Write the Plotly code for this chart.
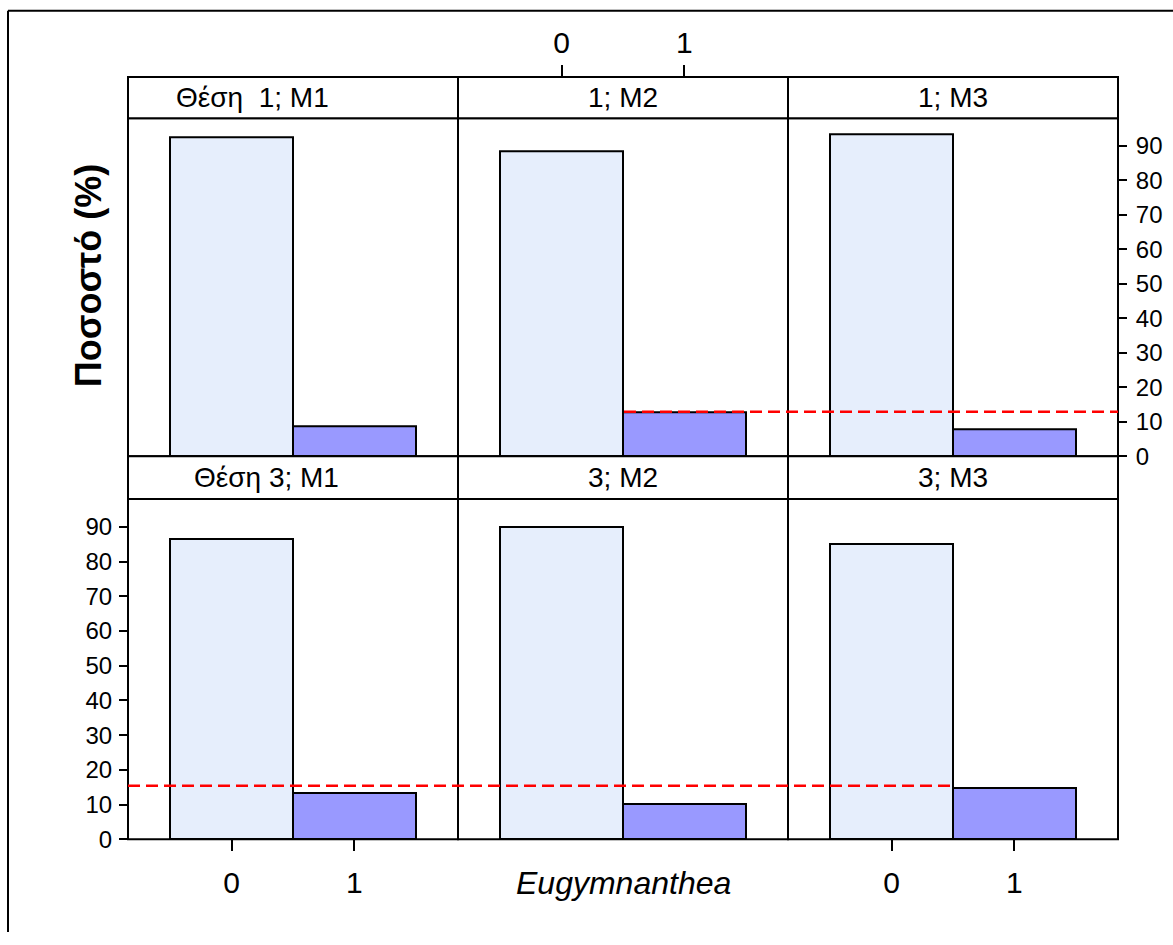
import plotly.graph_objects as go

# ---- data -------------------------------------------------------------
categories = ["0", "1"]
strip_texts = [["Θέση  1; M1", "1; M2", "1; M3"],
               ["Θέση 3; M1", "3; M2", "3; M3"]]
# percentage of category 0 / category 1 in each panel (row, column)
pct_0 = [[92.4, 88.4, 93.3],
         [86.5, 89.9, 85.1]]
pct_1 = [[8.5, 12.8, 7.7],
         [13.3, 10.2, 14.7]]
ref_level = [12.9, 15.4]          # dashed reference per row
y_ticks = [0, 10, 20, 30, 40, 50, 60, 70, 80, 90]

# ---- layout helpers (pixel -> paper) ----------------------------------
W, H = 1173, 945
def px(x):
    return x / W
def py(y):
    return 1 - y / H

col_px = [(128, 458), (458, 788), (788, 1118)]
row_px = [(120, 462.5), (506, 851)]      # plot area (top, bottom)
strip_px = [(78, 120), (462.5, 506)]

fill_0 = "#E6EEFC"
fill_1 = "#9999FF"
font_main = "Liberation Sans, Arial"

fig = go.Figure()
layout = dict(
    width=W, height=H, autosize=False,
    margin=dict(l=0, r=0, t=0, b=0),
    paper_bgcolor="white", plot_bgcolor="white",
    showlegend=False, bargap=0,
)
shapes = []
annotations = []

xrange_ = [-0.845, 1.845]
yrange_ = [0, 98]

for r in range(2):
    for c in range(3):
        k = r * 3 + c + 1
        xa = "xaxis" if k == 1 else f"xaxis{k}"
        ya = "yaxis" if k == 1 else f"yaxis{k}"
        xr = "x" if k == 1 else f"x{k}"
        yr = "y" if k == 1 else f"y{k}"

        fig.add_trace(go.Bar(
            x=categories, y=[pct_0[r][c], pct_1[r][c]],
            xaxis=xr, yaxis=yr, width=1.0,
            marker=dict(color=[fill_0, fill_1],
                        line=dict(color="black", width=2)),
        ))

        x0, x1 = col_px[c]
        t, b = row_px[r]
        xax = dict(domain=[px(x0), px(x1)], anchor=yr, range=xrange_,
                   type="category", showgrid=False, zeroline=False,
                   showline=False, ticks="", showticklabels=False,
                   fixedrange=True)
        yax = dict(domain=[py(b), py(t)], anchor=xr, range=yrange_,
                   showgrid=False, zeroline=False, showline=False,
                   ticks="", showticklabels=False, fixedrange=True)

        tickfont = dict(family=font_main, size=24, color="black")
        if r == 0 and c == 1:
            xax.update(anchor="free", position=py(strip_px[0][0]),
                       side="top", ticks="outside", ticklen=12,
                       tickwidth=1.5, tickcolor="black",
                       showticklabels=True,
                       tickfont=dict(family=font_main, size=30, color="black"))
        if r == 1 and c in (0, 2):
            xax.update(side="bottom", ticks="outside", ticklen=11,
                       tickwidth=1.5, tickcolor="black",
                       showticklabels=True,
                       tickfont=dict(family=font_main, size=30, color="black"),
                       ticklabelstandoff=6)
        if r == 0 and c == 2:
            yax.update(side="right", ticks="outside", ticklen=8,
                       tickwidth=1.5, tickcolor="black",
                       showticklabels=True, tickvals=y_ticks,
                       tickfont=tickfont, ticklabelstandoff=4)
        if r == 1 and c == 0:
            yax.update(side="left", ticks="outside", ticklen=8,
                       tickwidth=1.5, tickcolor="black",
                       showticklabels=True, tickvals=y_ticks,
                       tickfont=tickfont, ticklabelstandoff=2)
        layout[xa] = xax
        layout[ya] = yax

        # panel frame
        shapes.append(dict(type="rect", xref="paper", yref="paper",
                           x0=px(x0), x1=px(x1), y0=py(b), y1=py(t),
                           line=dict(color="black", width=2),
                           fillcolor="rgba(0,0,0,0)", layer="above"))
        # strip
        s0, s1 = strip_px[r]
        shapes.append(dict(type="rect", xref="paper", yref="paper",
                           x0=px(x0), x1=px(x1), y0=py(s1), y1=py(s0),
                           line=dict(color="black", width=2),
                           fillcolor="white", layer="above"))
        label_x = (x0 + x1) / 2
        if c == 0:
            label_x = 252 if r == 0 else 266
        annotations.append(dict(
            text=strip_texts[r][c], xref="paper", yref="paper",
            x=px(label_x), y=py((s0 + s1) / 2), showarrow=False,
            xanchor="center", yanchor="middle",
            font=dict(family=font_main, size=28, color="black")))

# dashed reference lines
shapes.append(dict(type="line", xref="paper", yref="y3",
                   x0=px(624), x1=px(1118), y0=ref_level[0], y1=ref_level[0],
                   line=dict(color="#FF0000", width=2.5, dash="12px,6px"),
                   layer="above"))
shapes.append(dict(type="line", xref="paper", yref="y4",
                   x0=px(128), x1=px(955), y0=ref_level[1], y1=ref_level[1],
                   line=dict(color="#FF0000", width=2.5, dash="12px,6px"),
                   layer="above"))

# outer frame (top and left edges; the rest runs off the page)
shapes.append(dict(type="line", xref="paper", yref="paper",
                   x0=px(8), x1=1, y0=py(11), y1=py(11),
                   line=dict(color="black", width=2), layer="above"))
shapes.append(dict(type="line", xref="paper", yref="paper",
                   x0=px(8), x1=px(8), y0=0, y1=py(11),
                   line=dict(color="black", width=2), layer="above"))

# axis titles
annotations.append(dict(
    text="<b>Ποσοστό (%)</b>", xref="paper", yref="paper",
    x=px(88), y=py(280), textangle=-90, showarrow=False,
    xanchor="center", yanchor="middle",
    font=dict(family=font_main, size=36, color="black")))
annotations.append(dict(
    text="<i>Eugymnanthea</i>", xref="paper", yref="paper",
    x=px(623), y=py(895), showarrow=False,
    xanchor="center", yanchor="middle",
    font=dict(family=font_main, size=32, color="black")))

layout["shapes"] = shapes
layout["annotations"] = annotations
fig.update_layout(**layout)
fig.write_html("out.html")
